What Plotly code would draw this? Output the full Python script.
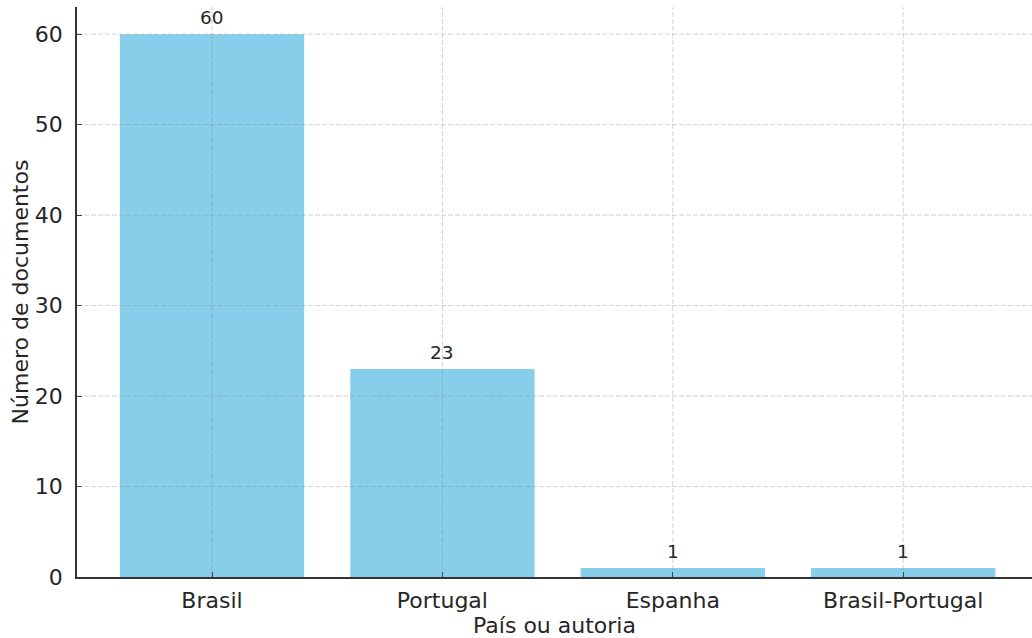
import plotly.graph_objects as go

# Documentos por país ou autoria
categorias = ["Brasil", "Portugal", "Espanha", "Brasil-Portugal"]
documentos = [60, 23, 1, 1]
y_ticks = [0, 10, 20, 30, 40, 50, 60]

TEXT = "#262626"
FONT = "DejaVu Sans"
GRID = dict(color="rgba(128,128,128,0.35)", width=1, dash="5px,2px")

fig = go.Figure(
    go.Bar(
        x=categorias,
        y=documentos,
        width=0.8,
        marker=dict(color="#87CEEB", line=dict(width=0)),
        hoverinfo="x+y",
    )
)

# value labels above each bar
for cat, val in zip(categorias, documentos):
    fig.add_annotation(
        x=cat, y=val, text=str(val), showarrow=False,
        yanchor="bottom", yshift=4,
        font=dict(family=FONT, size=18.5, color=TEXT),
    )

# dashed grid drawn on top of the bars
shapes = []
for cat in categorias:
    shapes.append(dict(type="line", xref="x", yref="paper", x0=cat, x1=cat,
                       y0=0, y1=1, line=GRID, layer="above"))
for t in y_ticks[1:]:
    shapes.append(dict(type="line", xref="paper", yref="y", x0=0, x1=1,
                       y0=t, y1=t, line=GRID, layer="above"))
fig.update_layout(shapes=shapes)

fig.update_layout(
    width=1032, height=638,
    margin=dict(l=77, r=0, t=7, b=61),
    paper_bgcolor="white", plot_bgcolor="white",
    font=dict(family=FONT, color=TEXT),
    showlegend=False,
    bargap=0.2,
    xaxis=dict(
        range=[-0.586, 3.559],
        showgrid=False, zeroline=False,
        showline=True, linecolor="#333333", linewidth=1.5,
        ticks="inside", ticklen=5, tickwidth=1, tickcolor="#333333",
        tickfont=dict(family=FONT, size=22, color=TEXT),
        ticklabelstandoff=3,
        title=dict(text="País ou autoria", font=dict(family=FONT, size=22, color=TEXT),
                   standoff=0),
        layer="above traces",
    ),
    yaxis=dict(
        range=[0, 63],
        tickvals=y_ticks,
        showgrid=False, zeroline=False,
        showline=True, linecolor="#333333", linewidth=1.5,
        ticks="inside", ticklen=5, tickwidth=1, tickcolor="#333333",
        tickfont=dict(family=FONT, size=22, color=TEXT),
        ticklabelstandoff=8,
        title=dict(text="Número de documentos", font=dict(family=FONT, size=22, color=TEXT),
                   standoff=0),
        layer="above traces",
    ),
)

fig.write_html("out.html")
